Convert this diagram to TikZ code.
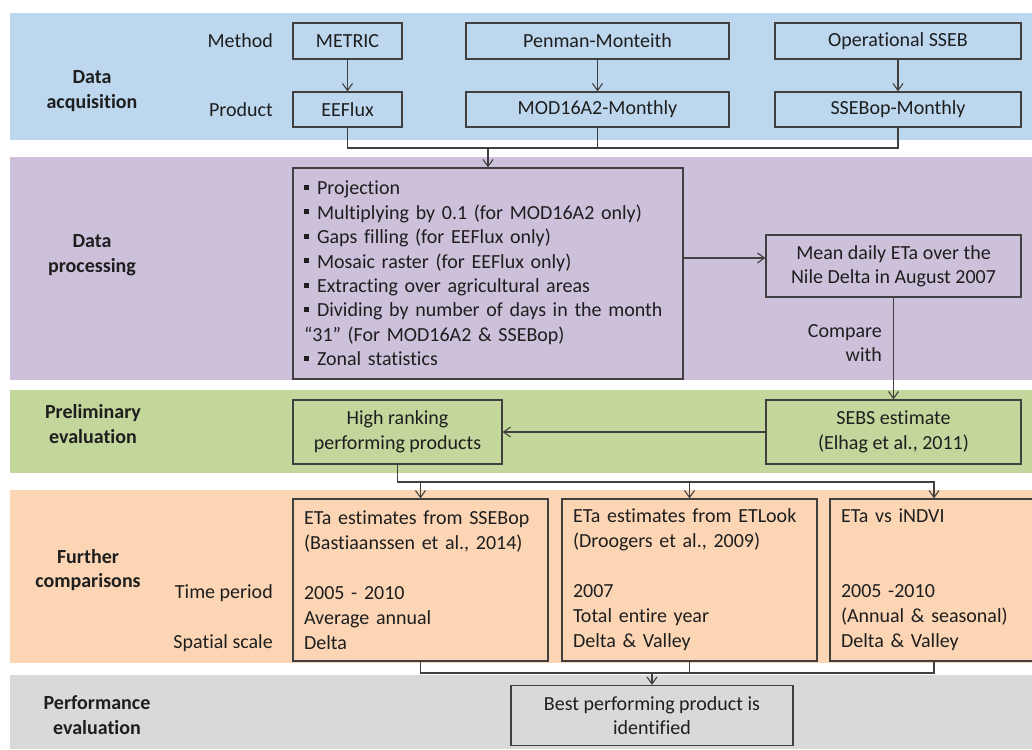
\documentclass[tikz,border=0pt]{standalone}
\usepackage{fontspec}
\setmainfont{Carlito}[Ligatures=CommonOff]
\usetikzlibrary{arrows.meta}
\definecolor{bblue}{RGB}{189,215,238}
\definecolor{bpurple}{RGB}{204,192,218}
\definecolor{bgreen}{RGB}{195,214,155}
\definecolor{borange}{RGB}{252,213,181}
\definecolor{bgray}{RGB}{217,217,217}
\definecolor{lcol}{RGB}{64,64,64}
\definecolor{tcol}{RGB}{30,30,30}
\newcommand{\sqbul}{\rule[5pt]{5pt}{5pt}\hspace{8pt}}
\begin{document}
\begin{tikzpicture}[x=1pt,y=-1pt,
  font=\fontsize{20}{24}\selectfont,
  box/.style={draw=lcol, line width=1.2pt, inner sep=0pt, align=center, text=tcol},
  lab/.style={text=tcol, inner sep=0pt},
  head/.style={font=\fontsize{20}{24.5}\selectfont\bfseries, align=center, text=tcol, inner sep=0pt},
  obox/.style={box, align=left, font=\fontsize{20}{25}\selectfont, minimum height=162pt, inner xsep=11pt},
  conn/.style={draw=lcol, line width=1.1pt},
  arr/.style={-{Straight Barb[length=7pt,width=10pt]}}]
\useasboundingbox (0,0) rectangle (1032,749);
\clip (0,0) rectangle (1032,749);
% bands
\fill[bblue] (10,13) rectangle (1032,140);
\fill[bpurple] (10,157) rectangle (1032,380);
\fill[bgreen] (10,390) rectangle (1032,473);
\fill[borange] (10,490) rectangle (1032,663);
\fill[bgray] (10,675) rectangle (1032,749);
% band headings
\node[head] (hacq) at (92,91) {Data\\acquisition};
\node[head] (hproc) at (92,255) {Data\\processing};
\node[head] (hpre) at (93,424) {Preliminary\\evaluation};
\node[head] (hfur) at (88,570) {Further\\comparisons};
\node[head] (hperf) at (97,715) {Performance\\evaluation};
% row labels
\node[lab, anchor=east] (lmeth) at (273,41) {Method};
\node[lab, anchor=east] (lprod) at (273,110) {Product};
\node[lab, anchor=east] (ltime) at (273,593) {Time period};
\node[lab, anchor=east] (lspat) at (273,643) {Spatial scale};
% acquisition boxes
\node[box, minimum width=109pt, minimum height=36pt] (metric) at (347.5,41) {METRIC};
\node[box, minimum width=263pt, minimum height=36pt] (penman) at (597.5,41) {Penman-Monteith};
\node[box, minimum width=246pt, minimum height=36pt] (ossebm) at (898,41) {Operational SSEB};
\node[box, minimum width=109pt, minimum height=35pt] (eeflux) at (347.5,109.5) {EEFlux};
\node[box, minimum width=263pt, minimum height=35pt] (mod) at (597.5,109.5) {MOD16A2-Monthly};
\node[box, minimum width=246pt, minimum height=35pt] (ssebop) at (898,109.5) {SSEBop-Monthly};
\draw[conn,arr] (metric) -- (eeflux);
\draw[conn,arr] (penman) -- (mod);
\draw[conn,arr] (ossebm) -- (ssebop);
% processing
\node[box, text width=368pt, inner xsep=11pt, minimum height=211pt, align=left,
      font=\fontsize{20}{24.4}\selectfont] (proc) at (488,273.5)
 {\sqbul Projection\\
  \sqbul Multiplying by 0.1 (for MOD16A2 only)\\
  \sqbul Gaps filling (for EEFlux only)\\
  \sqbul Mosaic raster (for EEFlux only)\\
  \sqbul Extracting over agricultural areas\\
  \sqbul Dividing by number of days in the month\\
  “31” (For MOD16A2 \& SSEBop)\\
  \sqbul Zonal statistics};
\coordinate (j1) at (488,148);
\draw[conn] (eeflux.south) |- (ssebop.south |- j1) -- (ssebop.south);
\draw[conn] (mod.south) -- (mod.south |- j1);
\draw[conn,arr] (j1) -- (proc.north);
\node[box, minimum width=255pt, minimum height=62pt] (mean) at (893.5,266)
 {Mean daily ETa over the\\Nile Delta in August 2007};
\coordinate (ma) at ([yshift=8pt]mean.west);
\draw[conn,arr] (proc.east |- ma) -- (ma);
\node[lab, anchor=east, align=right] (cmp) at (882,343) {Compare\\with};
% preliminary
\node[box, minimum width=255pt, minimum height=64pt, font=\fontsize{20}{25}\selectfont] (sebs) at (893.5,432)
 {SEBS estimate\\(Elhag et al., 2011)};
\node[box, minimum width=209pt, minimum height=64pt, font=\fontsize{20}{25}\selectfont] (high) at (397.5,432)
 {High ranking\\performing products};
\draw[conn,arr] (mean.south) -- (sebs.north);
\draw[conn,arr] (sebs.west) -- (high.east);
% further comparisons
\node[obox, text width=233pt] (o1) at (420.5,580)
 {ETa estimates from SSEBop\\(Bastiaanssen et al., 2014)\\[25pt]2005 - 2010\\Average annual\\Delta};
\node[obox, text width=233pt] (o2) at (689.5,580)
 {ETa estimates from ETLook\\(Droogers et al., 2009)\\[25pt]2007\\Total entire year\\Delta \& Valley};
\node[obox, text width=186pt] (o3) at (934,580)
 {ETa vs iNDVI\\[50pt]2005 -2010\\(Annual \& seasonal)\\Delta \& Valley};
\coordinate (h2) at (0,482);
\draw[conn,arr] (high.south) |- (o3.north |- h2) -- (o3.north);
\draw[conn,arr] (o1.north |- h2) -- (o1.north);
\draw[conn,arr] (o2.north |- h2) -- (o2.north);
% performance
\node[box, minimum width=282pt, minimum height=60pt] (best) at (652,715.5)
 {Best performing product is\\identified};
\coordinate (h3) at (0,673);
\draw[conn] (o1.south) |- (o3.south |- h3) -- (o3.south);
\draw[conn] (o2.south) -- (o2.south |- h3);
\draw[conn,arr] (best.north |- h3) -- (best.north);
\end{tikzpicture}
\end{document}
